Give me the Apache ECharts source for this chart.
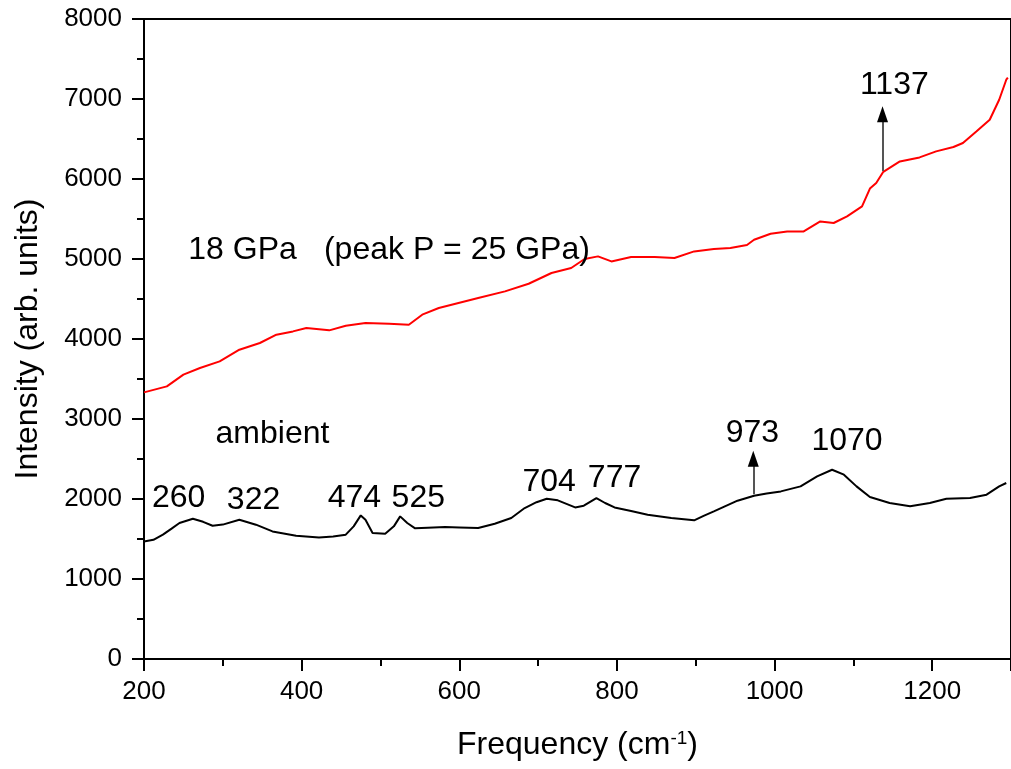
<!DOCTYPE html>
<html>
<head>
<meta charset="utf-8">
<title>Raman spectra</title>
<script src="https://cdn.jsdelivr.net/npm/echarts@6/dist/echarts.min.js"></script>
<style>
  html, body { margin: 0; padding: 0; background: #fff; }
  #chart { width: 1011px; height: 769px; }
</style>
</head>
<body>
<div id="chart"></div>
<script>
// Ambient spectrum: [frequency (cm-1), intensity]
const ambient = [
  [200, 1470], [212, 1490], [224, 1554], [235, 1630], [245, 1700], [262, 1754],
  [275, 1715], [287, 1666], [300, 1680], [321, 1741], [342, 1679], [363, 1595],
  [393, 1541], [422, 1520], [440, 1530], [456, 1554], [466, 1658], [475, 1795],
  [481, 1741], [490, 1575], [506, 1566], [517, 1658], [525, 1783], [534, 1700],
  [544, 1633], [560, 1640], [582, 1650], [600, 1645], [624, 1637], [645, 1690],
  [666, 1762], [683, 1887], [698, 1960], [711, 2004], [725, 1983], [747, 1895],
  [758, 1916], [774, 2012], [785, 1950], [797, 1895], [818, 1850], [839, 1804],
  [869, 1762], [898, 1733], [910, 1790], [923, 1846], [953, 1979], [974, 2041],
  [990, 2070], [1008, 2095], [1033, 2158], [1054, 2283], [1073, 2366], [1088, 2304],
  [1104, 2158], [1121, 2025], [1146, 1950], [1172, 1908], [1197, 1950], [1218, 2004],
  [1248, 2012], [1269, 2054], [1285, 2158], [1294, 2200]
];

// 18 GPa spectrum (peak P = 25 GPa): [frequency (cm-1), intensity]
const highP = [
  [200, 3333], [229, 3408], [250, 3554], [271, 3637], [296, 3720], [321, 3866],
  [347, 3950], [368, 4054], [389, 4095], [406, 4137], [435, 4108], [456, 4166],
  [481, 4200], [511, 4191], [536, 4179], [553, 4304], [574, 4387], [599, 4450],
  [624, 4512], [658, 4595], [688, 4691], [717, 4825], [742, 4887], [759, 5000],
  [776, 5033], [793, 4970], [818, 5025], [848, 5025], [873, 5012], [898, 5095],
  [923, 5125], [944, 5137], [965, 5175], [974, 5241], [995, 5316], [1016, 5345],
  [1037, 5345], [1058, 5470], [1075, 5450], [1092, 5533], [1111, 5658], [1121, 5880],
  [1129, 5950], [1138, 6090], [1159, 6220], [1184, 6270], [1205, 6345], [1227, 6400],
  [1239, 6450], [1256, 6595], [1273, 6741], [1285, 6991], [1294, 7241], [1296, 7266]
];

// Peak labels and captions placed in data coordinates
const noteText = ['260', '322', '474', '525', '704', '777', '973', '1070', '1137',
                  'ambient', '18 GPa', '(peak P = 25 GPa)'];
const noteX    = [244, 339, 467, 548, 714, 797, 972, 1092, 1152, 363, 325, 597];
const noteY    = [2016, 1983, 2016, 2016, 2216, 2258, 2820, 2726, 7179, 2816, 5108, 5108];

// Arrows marking shoulders: [frequency, from intensity, to intensity]
const arrows = [
  [973, 2060, 2604],
  [1137, 6100, 6908]
];

const xTicks = { min: 200, max: 1300, interval: 200 };
const yTicks = { min: 0, max: 8000, interval: 1000 };

const FONT = '"Liberation Sans", Arial, sans-serif';
const HEAD = [11, 16];   // arrowhead width, height in px

const chart = echarts.init(document.getElementById('chart'), null, { renderer: 'canvas' });

const axisCommon = {
  axisLine: { show: true, lineStyle: { color: '#000', width: 2 } },
  axisTick: { show: true, inside: false, length: 12, lineStyle: { color: '#000', width: 2 } },
  minorTick: { show: true, splitNumber: 2, length: 7, lineStyle: { color: '#000', width: 2 } },
  splitLine: { show: false },
  axisLabel: { color: '#000', fontSize: 26, fontFamily: FONT, formatter: v => String(v) },
  nameTextStyle: { color: '#000', fontSize: 32, fontFamily: FONT }
};

chart.setOption({
  animation: false,
  backgroundColor: '#fff',
  grid: {
    left: 144, top: 19, width: 871, height: 640,
    show: true, borderColor: '#000', borderWidth: 2, backgroundColor: 'transparent'
  },
  xAxis: Object.assign({}, axisCommon, {
    type: 'value',
    min: xTicks.min, max: xTicks.max, interval: xTicks.interval,
    name: 'Frequency (cm{sup|-1})',
    nameLocation: 'middle',
    nameGap: 70,
    nameTextStyle: {
      color: '#000', fontSize: 32, fontFamily: FONT,
      rich: { sup: { fontSize: 19, fontFamily: FONT, color: '#000', verticalAlign: 'top', lineHeight: 20 } }
    },
    axisLabel: Object.assign({}, axisCommon.axisLabel, { margin: 20, showMaxLabel: false })
  }),
  yAxis: Object.assign({}, axisCommon, {
    type: 'value',
    min: yTicks.min, max: yTicks.max, interval: yTicks.interval,
    name: 'Intensity (arb. units)',
    nameLocation: 'middle',
    nameGap: 100,
    axisLabel: Object.assign({}, axisCommon.axisLabel, { margin: 22 })
  }),
  series: [
    {
      name: 'ambient', type: 'line', data: ambient, showSymbol: false, symbol: 'none',
      lineStyle: { color: '#000', width: 2 }, z: 3,
      // arrow shafts
      markLine: {
        silent: true, symbol: ['none', 'none'],
        label: { show: false },
        lineStyle: { color: '#555', width: 2, type: 'solid' },
        data: arrows.map(a => [{ coord: [a[0], a[1]] }, { coord: [a[0], a[2] - 150] }])
      },
      // arrowheads, tip placed on the arrow's end value
      markPoint: {
        silent: true, symbol: 'triangle', symbolSize: HEAD,
        symbolOffset: [0, HEAD[1] / 2],
        itemStyle: { color: '#000' },
        label: { show: false },
        data: arrows.map(a => ({ coord: [a[0], a[2]] }))
      }
    },
    {
      name: '18 GPa', type: 'line', data: highP, showSymbol: false, symbol: 'none',
      lineStyle: { color: '#ff0000', width: 2 }, z: 3
    },
    {
      name: 'notes', type: 'scatter', symbolSize: 0, silent: true, z: 5,
      itemStyle: { color: '#000', opacity: 1 },
      data: noteX.map((x, i) => [x, noteY[i]]),
      label: {
        show: true, position: 'inside', color: '#000', opacity: 1, fontSize: 32, fontFamily: FONT,
        textBorderWidth: 0, textShadowBlur: 0,
        formatter: p => noteText[p.dataIndex]
      }
    }
  ]
});
</script>
</body>
</html>
